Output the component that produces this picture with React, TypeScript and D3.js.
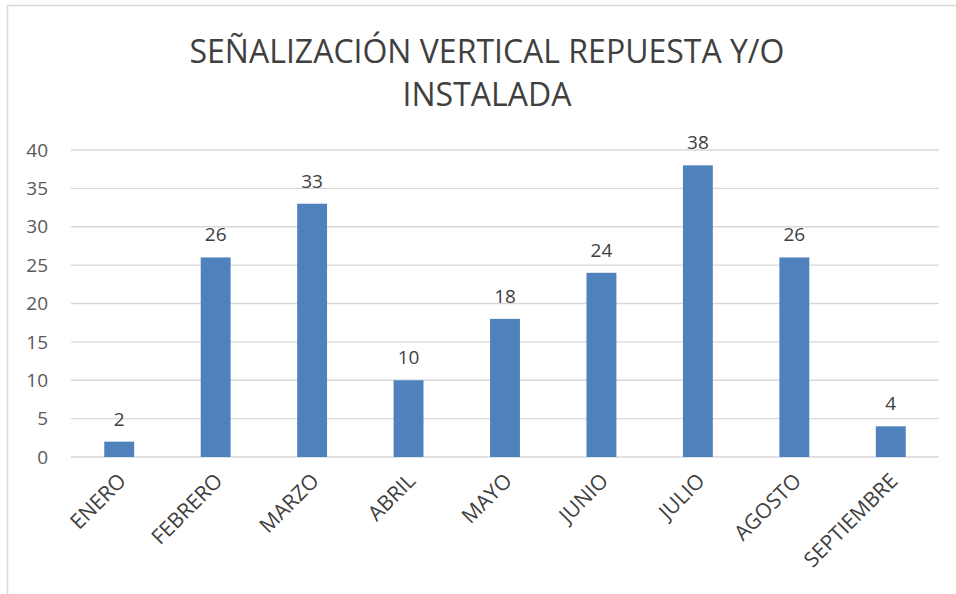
import { useEffect, useRef } from 'react';
import * as d3 from 'd3';

const MONTHS = ['ENERO', 'FEBRERO', 'MARZO', 'ABRIL', 'MAYO', 'JUNIO', 'JULIO', 'AGOSTO', 'SEPTIEMBRE'];
const VALUES = [2, 26, 33, 10, 18, 24, 38, 26, 4];
const Y_TICKS = [0, 5, 10, 15, 20, 25, 30, 35, 40];
const TITLE_LINES = ['SEÑALIZACIÓN VERTICAL REPUESTA Y/O', 'INSTALADA'];

const FONT = '"Open Sans", sans-serif';

export default function App() {
  const ref = useRef<SVGSVGElement>(null);

  useEffect(() => {
    if (!ref.current) return;
    const svg = d3.select(ref.current);
    svg.selectAll('*').remove();

    const W = 956, H = 594;
    const left = 71, right = 939, top = 150, bottom = 457;

    svg.append('rect').attr('width', W).attr('height', H).attr('fill', '#fff');
    // chart frame (only top and left edges visible)
    svg.append('rect').attr('x', 7.5).attr('y', 5.5).attr('width', 1000).attr('height', 700)
      .attr('fill', 'none').attr('stroke', '#d9d9d9').attr('stroke-width', 1.5);

    // Title
    svg.append('text').attr('text-anchor', 'middle')
      .attr('fill', '#404040').attr('font-family', FONT).attr('font-size', 32)
      .selectAll('tspan').data(TITLE_LINES).join('tspan')
      .attr('x', 487).attr('y', (_, i) => 63 + i * 43).text(d => d);

    const x = d3.scaleBand().domain(MONTHS).range([left, right]).paddingInner(0.69).paddingOuter(0.345);
    const y = d3.scaleLinear().domain([0, 40]).range([bottom, top]);

    // Grid lines
    svg.append('g').selectAll('line').data(Y_TICKS).join('line')
      .attr('x1', left).attr('x2', right)
      .attr('y1', d => y(d)).attr('y2', d => y(d))
      .attr('stroke', '#d9d9d9').attr('stroke-width', 1.3);

    // Y axis labels
    svg.append('g').selectAll('text').data(Y_TICKS).join('text')
      .attr('x', 48).attr('y', d => y(d)).attr('dy', '0.35em')
      .attr('text-anchor', 'end').attr('fill', '#595959')
      .attr('font-family', FONT).attr('font-size', 19).text(d => d);

    // Bars
    svg.append('g').selectAll('rect').data(VALUES).join('rect')
      .attr('x', (_, i) => x(MONTHS[i])!)
      .attr('y', d => y(d))
      .attr('width', x.bandwidth())
      .attr('height', d => bottom - y(d))
      .attr('fill', '#4f81bd');

    // Data labels
    svg.append('g').selectAll('text').data(VALUES).join('text')
      .attr('x', (_, i) => x(MONTHS[i])! + x.bandwidth() / 2)
      .attr('y', d => y(d) - 16)
      .attr('text-anchor', 'middle').attr('fill', '#404040')
      .attr('font-family', FONT).attr('font-size', 19).text(d => d);

    // X axis labels
    svg.append('g').selectAll('text').data(MONTHS).join('text')
      .attr('transform', d => `translate(${x(d)! + x.bandwidth() / 2 + 3},${bottom + 20}) rotate(-45)`)
      .attr('text-anchor', 'end').attr('dy', '0.35em').attr('fill', '#404040')
      .attr('font-family', FONT).attr('font-size', 21).text(d => d);
  }, []);

  return <svg ref={ref} width={956} height={594} style={{ position: 'absolute', left: 0, top: 0 }} />;
}
